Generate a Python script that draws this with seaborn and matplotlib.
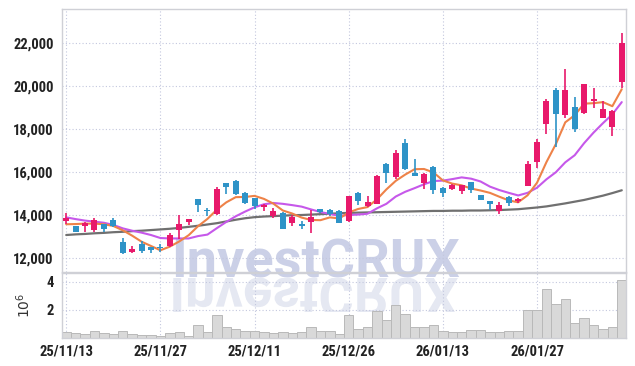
import numpy as np
import pandas as pd
import matplotlib
matplotlib.use("Agg")
import matplotlib.pyplot as plt
import seaborn as sns
from matplotlib.textpath import TextPath
from matplotlib.patches import PathPatch
from matplotlib.font_manager import FontProperties, fontManager
from matplotlib.transforms import Affine2D, Bbox

# ---------------- data ----------------
opens = [13730, 13490, 13500, 13300, 13580, 13770, 12760, 12270, 12650, 12500,
         12500, 12560, 13300, 13670, 14740, 14230, 14050, 15470, 15580, 15020,
         14780, 14380, 13950, 14110, 13640, 13580, 13690, 14280, 14230, 14200,
         13730, 15040, 14420, 14510, 16360, 15780, 17360, 15940, 15470, 16250,
         15270, 15200, 15120, 15520, 14930, 14650, 14190, 14850, 14650, 15360,
         16480, 18230, 19810, 18650, 19040, 18760, 19310, 18520, 18080, 20200]
highs = [14100, 13500, 13680, 13850, 13600, 13850, 12920, 12550, 12800, 12520,
         12650, 13150, 14000, 13830, 14760, 14310, 15310, 15500, 15630, 15080,
         14800, 14500, 14310, 14150, 14000, 13730, 14230, 14300, 14260, 14230,
         14900, 15060, 14880, 15850, 16430, 17020, 17520, 16590, 15970, 16260,
         15290, 15420, 15410, 15550, 14950, 14670, 14590, 14870, 14800, 16510,
         17530, 19390, 19920, 20780, 19500, 20100, 19920, 19300, 18900, 22450]
lows = [13580, 13200, 13200, 13220, 13200, 13450, 12200, 12220, 12220, 12220,
        12300, 12500, 12870, 13530, 14120, 13950, 14000, 14980, 14950, 14510,
        14260, 14190, 13850, 13330, 13500, 13330, 13150, 14100, 13950, 13620,
        13690, 14460, 14390, 14490, 15470, 15660, 16100, 15800, 15210, 14960,
        14850, 15170, 14980, 15040, 14680, 14230, 14030, 14430, 14540, 15340,
        16200, 17750, 17180, 18520, 17870, 18680, 18990, 18500, 17680, 19890]
closes = [13860, 13220, 13640, 13770, 13340, 13490, 12220, 12400, 12340, 12370,
          12470, 13070, 13580, 13800, 14480, 14170, 15210, 15290, 14980, 14570,
          14420, 14480, 14200, 13360, 13890, 13490, 13890, 14150, 14050, 13640,
          14880, 14660, 14620, 15830, 15940, 16900, 16130, 15830, 15890, 15160,
          15040, 15400, 15400, 15160, 14700, 14510, 14470, 14540, 14730, 16370,
          17380, 19300, 18700, 19810, 18000, 20090, 19410, 18930, 18850, 21980]
ma5 = [13570, 13580, 13600, 13600, 13570, 13490, 13290, 13040, 12760, 12560,
       12360, 12530, 12770, 13060, 13480, 13820, 14250, 14590, 14830, 14840,
       14890, 14750, 14530, 14210, 14070, 13880, 13770, 13760, 13890, 13840,
       14120, 14280, 14370, 14730, 15190, 15590, 15880, 16130, 16140, 15980,
       15610, 15460, 15380, 15230, 15140, 15030, 14850, 14680, 14590, 14920,
       15500, 16460, 17300, 18310, 18640, 19180, 19200, 19250, 19060, 19850]
ma10 = [13890, 13810, 13740, 13690, 13640, 13540, 13380, 13270, 13180, 13070,
        12930, 12910, 12910, 12910, 13020, 13090, 13390, 13680, 13940, 14160,
        14360, 14500, 14560, 14520, 14460, 14390, 14260, 14140, 14050, 13960,
        14000, 14020, 14060, 14310, 14520, 14860, 15080, 15250, 15430, 15580,
        15600, 15670, 15750, 15690, 15560, 15320, 15160, 15030, 14910, 15030,
        15270, 15660, 15990, 16450, 16780, 17340, 17830, 18270, 18680, 19250]
ma_long = [13070, 13100, 13120, 13150, 13170, 13200, 13220, 13250, 13270, 13300,
           13330, 13360, 13400, 13450, 13500, 13560, 13620, 13700, 13780, 13850,
           13900, 13930, 13950, 13970, 13990, 14000, 14020, 14040, 14060, 14080,
           14100, 14110, 14120, 14130, 14140, 14150, 14160, 14170, 14180, 14190,
           14190, 14200, 14200, 14210, 14210, 14220, 14230, 14250, 14270, 14310,
           14350, 14400, 14470, 14540, 14620, 14700, 14800, 14900, 15020, 15150]
volume_m = [0.40, 0.33, 0.26, 0.47, 0.33, 0.26, 0.47, 0.26, 0.24, 0.24,
            0.14, 0.33, 0.45, 0.17, 0.93, 0.40, 1.63, 0.75, 0.61, 0.47,
            0.51, 0.40, 0.33, 0.40, 0.33, 0.40, 0.79, 0.47, 0.47, 0.26,
            1.65, 0.65, 0.75, 1.93, 1.30, 2.35, 1.72, 0.82, 0.82, 0.95,
            0.47, 0.40, 0.40, 0.54, 0.54, 0.40, 0.40, 0.47, 0.47, 2.00,
            2.00, 3.53, 2.42, 2.77, 1.09, 1.44, 0.95, 0.61, 0.82, 4.16]
date_tick_pos = [0, 10, 20, 30, 40, 50]
date_tick_labels = ["25/11/13", "25/11/27", "25/12/11", "25/12/26", "26/01/13", "26/01/27"]
price_ticks = [12000, 14000, 16000, 18000, 20000, 22000]
vol_ticks = [2, 4]
watermark = "InvestCRUX"

# ---------------- style ----------------
sns.set_theme(style="white")
names = {f.name for f in fontManager.ttflist}
if "Liberation Sans Narrow" in names:
    tick_family, tick_size = "Liberation Sans Narrow", 10.5
elif "Roboto Condensed" in names:
    tick_family, tick_size = "Roboto Condensed", 10.5
else:
    tick_family, tick_size = "Roboto", 9.3
plt.rcParams["font.family"] = [tick_family, "DejaVu Sans"]

UP = "#e8196b"
DOWN = "#2e93c7"
GRID = "#c3c7de"
SPINE = "#cfd0d6"

df = pd.DataFrame({"i": np.arange(len(closes)), "o": opens, "h": highs, "l": lows,
                   "c": closes, "ma5": ma5, "ma10": ma10, "mal": ma_long, "vol": volume_m})
df["col"] = np.where(df["c"] >= df["o"], UP, DOWN)

W, H = 635, 366
fig = plt.figure(figsize=(W / 100, H / 100), dpi=100)
ax = fig.add_axes([62 / W, 1 - 272 / H, 564 / W, 263 / H])
axv = fig.add_axes([62 / W, 1 - 338 / H, 564 / W, 65 / H], sharex=ax)
for a in (ax, axv):
    a.set_facecolor("none")
    for s in a.spines.values():
        s.set_color(SPINE)
        s.set_linewidth(1.0)
    a.grid(True, linestyle=(0, (1, 2)), color=GRID, linewidth=0.8)

# watermark (behind axes)
wm_size = 39
fig.text(0.497, 1 - 277 / H, watermark, ha="center", va="baseline",
         fontfamily="Roboto", fontweight="bold", fontsize=wm_size,
         color="#cbd0e7", zorder=-2)
fp = FontProperties(family="Roboto", weight="bold")
tp = TextPath((0, 0), watermark, size=wm_size * 100 / 72, prop=fp)
bb = tp.get_extents()
base_y = H - 278
tr = Affine2D().translate(-(bb.x0 + bb.x1) / 2, 0).scale(1, -1).translate(0.497 * W, base_y)
refl = PathPatch(tp, transform=tr, facecolor="#e5e8f2", edgecolor="none", zorder=-2)
fig.add_artist(refl)
refl.set_clip_box(Bbox.from_extents(0, H - 312, W, base_y))
refl.set_clip_on(True)

# moving averages
sns.lineplot(data=df, x="i", y="mal", ax=ax, color="#707070", linewidth=1.6, zorder=2)
sns.lineplot(data=df, x="i", y="ma10", ax=ax, color="#c658ea", linewidth=1.5, zorder=2)
sns.lineplot(data=df, x="i", y="ma5", ax=ax, color="#ee8248", linewidth=1.5, zorder=2)

# candles
ax.vlines(df["i"], df["l"], df["h"], colors=df["col"], linewidth=1.2, zorder=3)
body_low = np.minimum(df["o"], df["c"])
body_h = np.maximum(np.abs(df["c"] - df["o"]), 60)
ax.bar(df["i"], body_h, bottom=body_low, width=0.64, color=df["col"], linewidth=0, zorder=4)

ax.set_xlim(-0.45, len(closes) - 0.55)
ax.set_ylim(11350, 23580)
ax.set_yticks(price_ticks)
ax.set_yticklabels([f"{v:,}" for v in price_ticks])
ax.set_xlabel("")
ax.set_ylabel("")
ax.tick_params(axis="x", labelbottom=False, length=0)
ax.tick_params(axis="y", length=0, pad=6, labelsize=tick_size, labelcolor="#222222")

# volume
sns.barplot(data=df, x="i", y="vol", ax=axv, native_scale=True, width=1.0,
            color="#d9d9d9", edgecolor="#b9b9b9", linewidth=0.7, zorder=2)
axv.set_xlim(-0.45, len(closes) - 0.55)
axv.set_ylim(0, 4.64)
axv.set_yticks(vol_ticks)
axv.set_yticklabels([str(v) for v in vol_ticks])
axv.set_xticks(date_tick_pos)
axv.set_xticklabels(date_tick_labels)
axv.set_xlabel("")
axv.set_ylabel(r"$10^{6}$", fontsize=10, color="#333333", fontfamily="DejaVu Sans")
axv.yaxis.set_label_coords(-0.051, 0.5)
axv.tick_params(axis="both", length=0, labelsize=tick_size, labelcolor="#222222")
axv.tick_params(axis="y", pad=6)
axv.tick_params(axis="x", pad=5)
for lab in ax.get_yticklabels() + axv.get_yticklabels() + axv.get_xticklabels():
    lab.set_fontweight("bold")

fig.savefig("out.png", dpi=100)
